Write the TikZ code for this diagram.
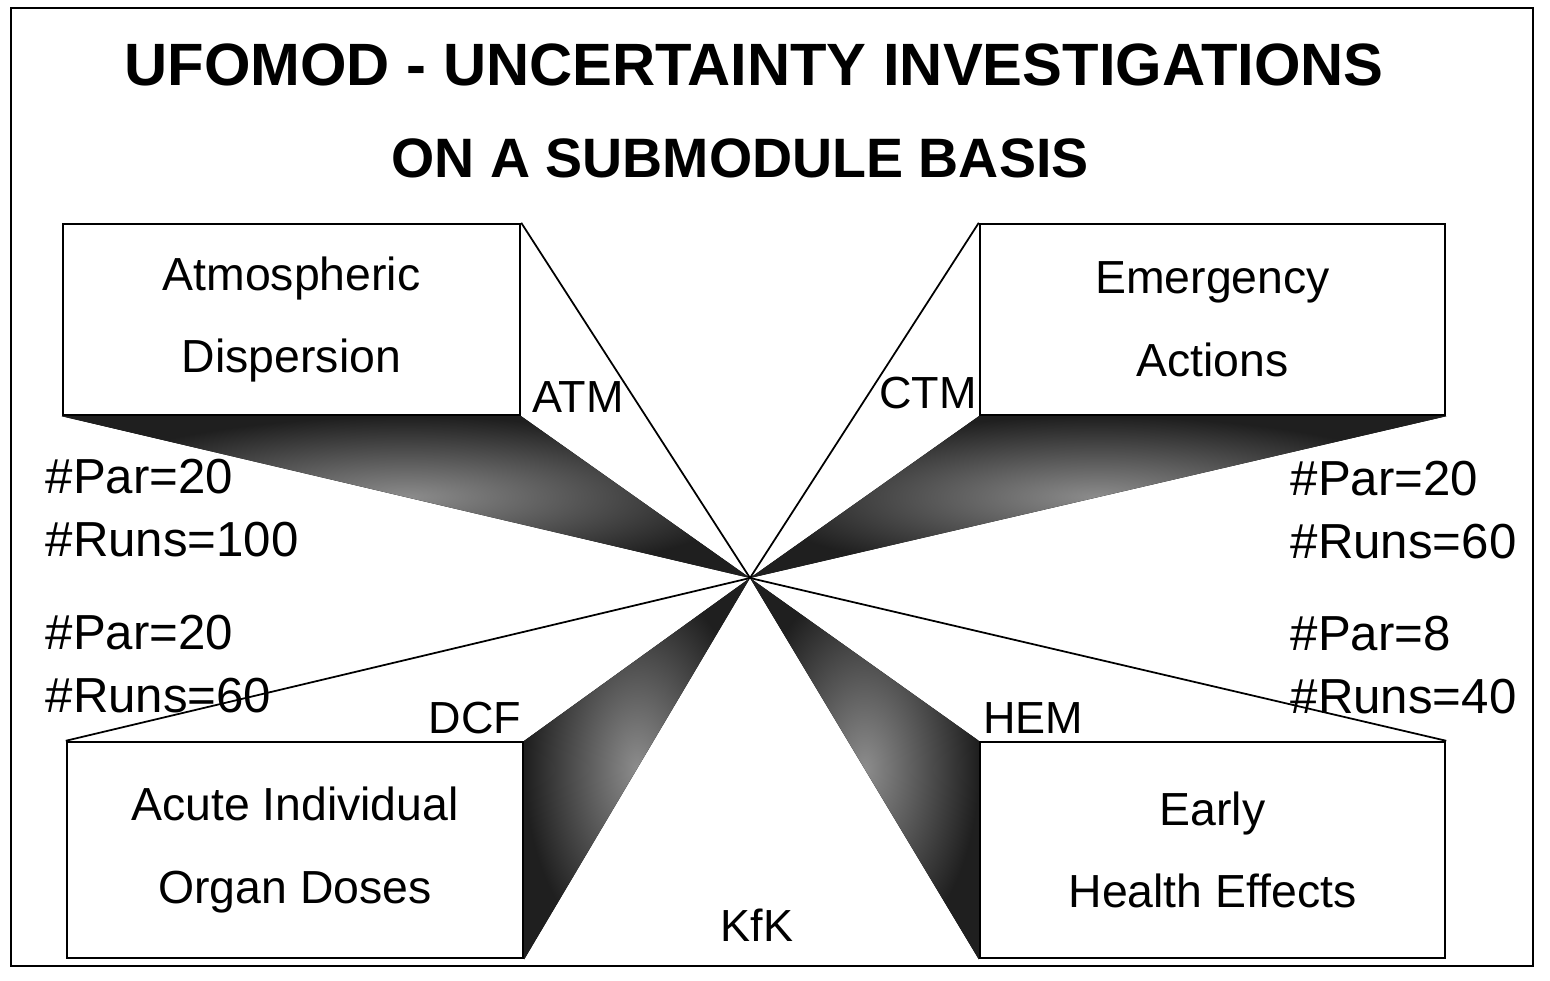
\documentclass[tikz,border=0pt]{standalone}
\usepackage{fontspec}
\setmainfont{Liberation Sans}
\usetikzlibrary{positioning}

\tikzset{
  modbox/.style={draw, line width=0.7pt, align=center, inner sep=0pt,
    font=\fontsize{13.2}{23.5}\selectfont},
  beam/.style={shading=radial, inner color=black!45, outer color=black!88},
  ray/.style={line width=0.5pt},
  tag/.style={inner sep=0pt, font=\fontsize{12.8}{15}\selectfont},
  stat/.style={inner sep=0pt, anchor=west, align=left,
    font=\fontsize{14}{17.9}\selectfont},
}

\begin{document}
\begin{tikzpicture}[x=0.1mm, y=-0.1mm]
  \useasboundingbox (0,0) rectangle (1550,980);
  % frame and title
  \draw[line width=0.7pt] (11,8) rectangle (1533,966);
  \node[inner sep=0pt, font=\fontsize{17}{17}\bfseries] (title1) at (754,65) {UFOMOD - UNCERTAINTY INVESTIGATIONS};
  \node[inner sep=0pt, font=\fontsize{15.8}{16}\bfseries] (title2) at (740,158) {ON A SUBMODULE BASIS};

  \coordinate (hub) at (750,578);

  % the four submodules
  \node[modbox, minimum width=4.57cm, minimum height=1.91cm] (atm) at (291.5,319.5) {Atmospheric\\Dispersion};
  \node[modbox, minimum width=4.65cm, minimum height=1.91cm] (ctm) at (1212.5,319.5) {Emergency\\Actions};
  \node[modbox, minimum width=4.56cm, minimum height=2.16cm] (dcf) at (295,850) {Acute Individual\\Organ Doses};
  \node[modbox, minimum width=4.65cm, minimum height=2.16cm] (hem) at (1212.5,850) {Early\\Health Effects};

  % beams to the hub
  \fill[beam] (atm.south west) -- (atm.south east) -- (hub) -- cycle;
  \fill[beam] (ctm.south west) -- (ctm.south east) -- (hub) -- cycle;
  \fill[beam] (dcf.north east) -- (dcf.south east) -- (hub) -- cycle;
  \fill[beam] (hem.north west) -- (hem.south west) -- (hub) -- cycle;
  \draw[ray] (atm.north east) -- (hub);
  \draw[ray] (ctm.north west) -- (hub);
  \draw[ray] (dcf.north west) -- (hub);
  \draw[ray] (hem.north east) -- (hub);

  % submodule codes
  \node[tag] (atmcode) at (578,397) {ATM};
  \node[tag] (ctmcode) at (928,393) {CTM};
  \node[tag] (dcfcode) at (475,718) {DCF};
  \node[tag] (hemcode) at (1033,718) {HEM};
  \node[tag] (kfk) at (757,925) {KfK};

  % parameters and runs
  \node[stat] (atmstat) at (45,508) {\#Par=20\\\#Runs=100};
  \node[stat] (dcfstat) at (45,664) {\#Par=20\\\#Runs=60};
  \node[stat] (ctmstat) at (1290,510) {\#Par=20\\\#Runs=60};
  \node[stat] (hemstat) at (1290,665) {\#Par=8\\\#Runs=40};
\end{tikzpicture}
\end{document}
